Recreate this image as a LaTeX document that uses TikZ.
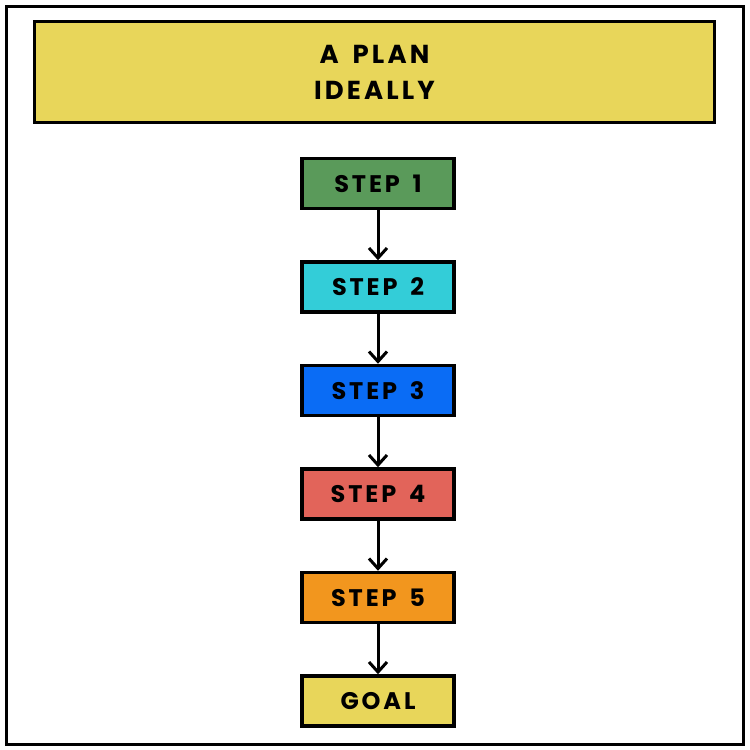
\documentclass[tikz,border=0pt]{standalone}
\usepackage{fontspec}
\setmainfont{Poppins}[LetterSpace=12,WordSpace=1.6]
\usetikzlibrary{positioning,arrows.meta}

\definecolor{planyellow}{HTML}{E8D65A}
\definecolor{stepgreen}{HTML}{5A9A5A}
\definecolor{stepcyan}{HTML}{33CDD8}
\definecolor{stepblue}{HTML}{0A6CF5}
\definecolor{stepred}{HTML}{E2645A}
\definecolor{steporange}{HTML}{F2961E}

\begin{document}
\begin{tikzpicture}[x=1pt,y=-1pt,node distance=50pt,
    stepbox/.style={draw=black,line width=3.5pt,minimum width=152pt,minimum height=50pt,inner sep=0pt,
        font=\fontsize{24}{24}\selectfont\bfseries},
    flow/.style={line width=3pt,-{Straight Barb[length=10pt,width=18pt,line width=3pt]}}]

    \useasboundingbox (0,0) rectangle (750,750);
    \draw[line width=3pt] (6,6) rectangle (743,744);

    \node[draw=black,fill=planyellow,line width=3.5pt,minimum width=680pt,minimum height=101pt,align=center,
        font=\fontsize{26}{36}\selectfont\bfseries] (title) at (374.5,72) {A PLAN\\IDEALLY};

    \node[stepbox,fill=stepgreen] (step1) at (378,183.5) {STEP 1};
    \node[stepbox,fill=stepcyan,below=of step1] (step2) {STEP 2};
    \node[stepbox,fill=stepblue,below=of step2] (step3) {STEP 3};
    \node[stepbox,fill=stepred,below=of step3] (step4) {STEP 4};
    \node[stepbox,fill=steporange,below=of step4] (step5) {STEP 5};
    \node[stepbox,fill=planyellow,below=of step5] (goal) {GOAL};

    \foreach \a/\b in {step1/step2,step2/step3,step3/step4,step4/step5,step5/goal}
        \draw[flow] (\a) -- (\b);
\end{tikzpicture}
\end{document}
